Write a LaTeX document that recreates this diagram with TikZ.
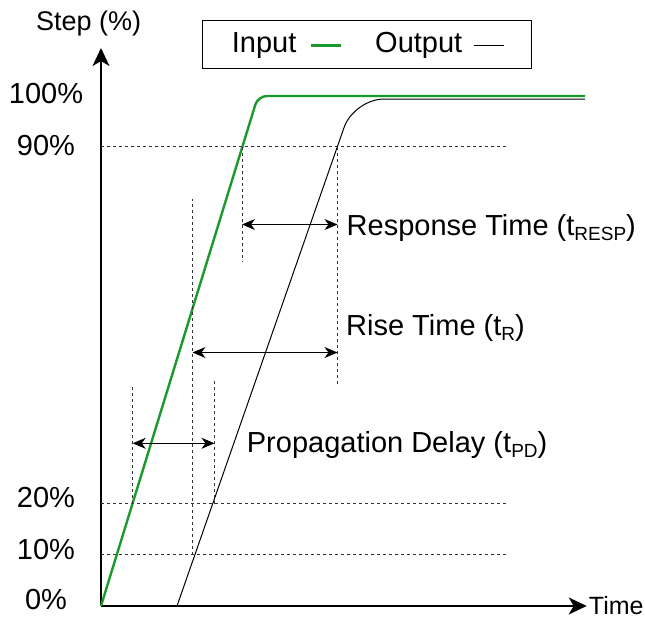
\documentclass[tikz,border=0pt]{standalone}
\usepackage{fontspec}
\setmainfont{Liberation Sans}
\usetikzlibrary{arrows.meta,positioning}
\definecolor{inputgreen}{HTML}{1A9A2A}
\definecolor{guideline}{HTML}{333333}

% lowered index text, as in t_RESP
\newcommand{\lowidx}[1]{\raisebox{-5pt}{\fontsize{19}{19}\selectfont #1}}

\tikzset{
  axisline/.style={line width=1.3pt,-{Stealth[length=18pt,width=17pt,inset=5pt]}},
  guide/.style={guideline,line width=1pt,dash pattern=on 3pt off 3pt},
  span/.style={line width=1.1pt,{Stealth[length=13pt,width=11pt,inset=4pt]}-{Stealth[length=13pt,width=11pt,inset=4pt]}},
  lbl/.style={inner sep=0pt,anchor=base west},
  pct/.style={inner sep=0pt}
}

\begin{document}
\begin{tikzpicture}[x=1pt,y=5.1pt,font=\fontsize{29}{34}\selectfont]
\useasboundingbox (-101,-2.745) rectangle (544,118.82);

% axes
\coordinate (O) at (0,0);
\coordinate (ytop) at (0,109.4);
\coordinate (xend) at (485.7,0);
\draw[axisline] (O) -- (ytop);
\draw[axisline] (O) -- (xend);
\node[anchor=west,inner sep=0pt,xshift=2pt,font=\fontsize{25}{30}\selectfont] (time) at (xend) {Time};
\node[anchor=base,inner sep=0pt,font=\fontsize{27}{32}\selectfont] (step) at (-12.3,112.9) {Step (\%)};

% level labels
\foreach \lv/\ly in {100/100.4,90/90.2,20/21.2,10/11,0/1.2}
  \node[pct] (p\lv) at (-55,\ly) {\lv\%};

% dashed level lines
\foreach \lv in {90,20,10}
  \draw[guide] (0,\lv) -- (407,\lv);

% input and output edges
\draw[inputgreen,line width=2.4pt,rounded corners=9pt] (O) -- (157,100) -- (484,100);
\draw[line width=1pt,rounded corners=30pt] (76,0) -- (253,99.4) -- (484,99.4);

% crossing points
\coordinate (in90) at (141,90);
\coordinate (out90) at (236.5,90);
\coordinate (out10) at (91.5,10);
\coordinate (in20) at (31.7,20);
\coordinate (out20) at (113.5,20);

\draw[guide] (in90) -- ++(0,-22.5);
\draw[guide] (out90) -- ++(0,-46.7);
\draw[guide] (out10) -- ++(0,69.8);
\draw[guide] (in20) -- ++(0,23.3);
\draw[guide] (out20) -- ++(0,24.7);

% time spans
\coordinate (respA) at (in90 |- 0,74.8);
\coordinate (respB) at (out90 |- 0,74.8);
\coordinate (riseA) at (out10 |- 0,49.7);
\coordinate (riseB) at (out90 |- 0,49.7);
\coordinate (propA) at (in20 |- 0,31.9);
\coordinate (propB) at (out20 |- 0,31.9);
\draw[span] (respA) -- (respB);
\draw[span] (riseA) -- (riseB);
\draw[span] (propA) -- (propB);

\node[lbl] (resp) at (245.5,72.7) {Response Time (t\lowidx{RESP})};
\node[lbl] (rise) at (245,53.1) {Rise Time (t\lowidx{R})};
\node[lbl] (prop) at (145.7,30.0) {Propagation Delay (t\lowidx{PD})};

% legend
\node[draw,line width=1pt,minimum width=329pt,minimum height=48.3pt,inner sep=0pt] (legend) at (266.2,110.05) {};
\node[anchor=base west,inner sep=0pt] (inlab) at (130.7,108.5) {Input};
\draw[inputgreen,line width=2.4pt] ([xshift=14pt]inlab.east) -- ++(30pt,0);
\node[anchor=base west,inner sep=0pt] (outlab) at (274,108.5) {Output};
\draw[line width=1pt] ([xshift=12pt]outlab.east) -- ++(30pt,0);
\end{tikzpicture}
\end{document}
